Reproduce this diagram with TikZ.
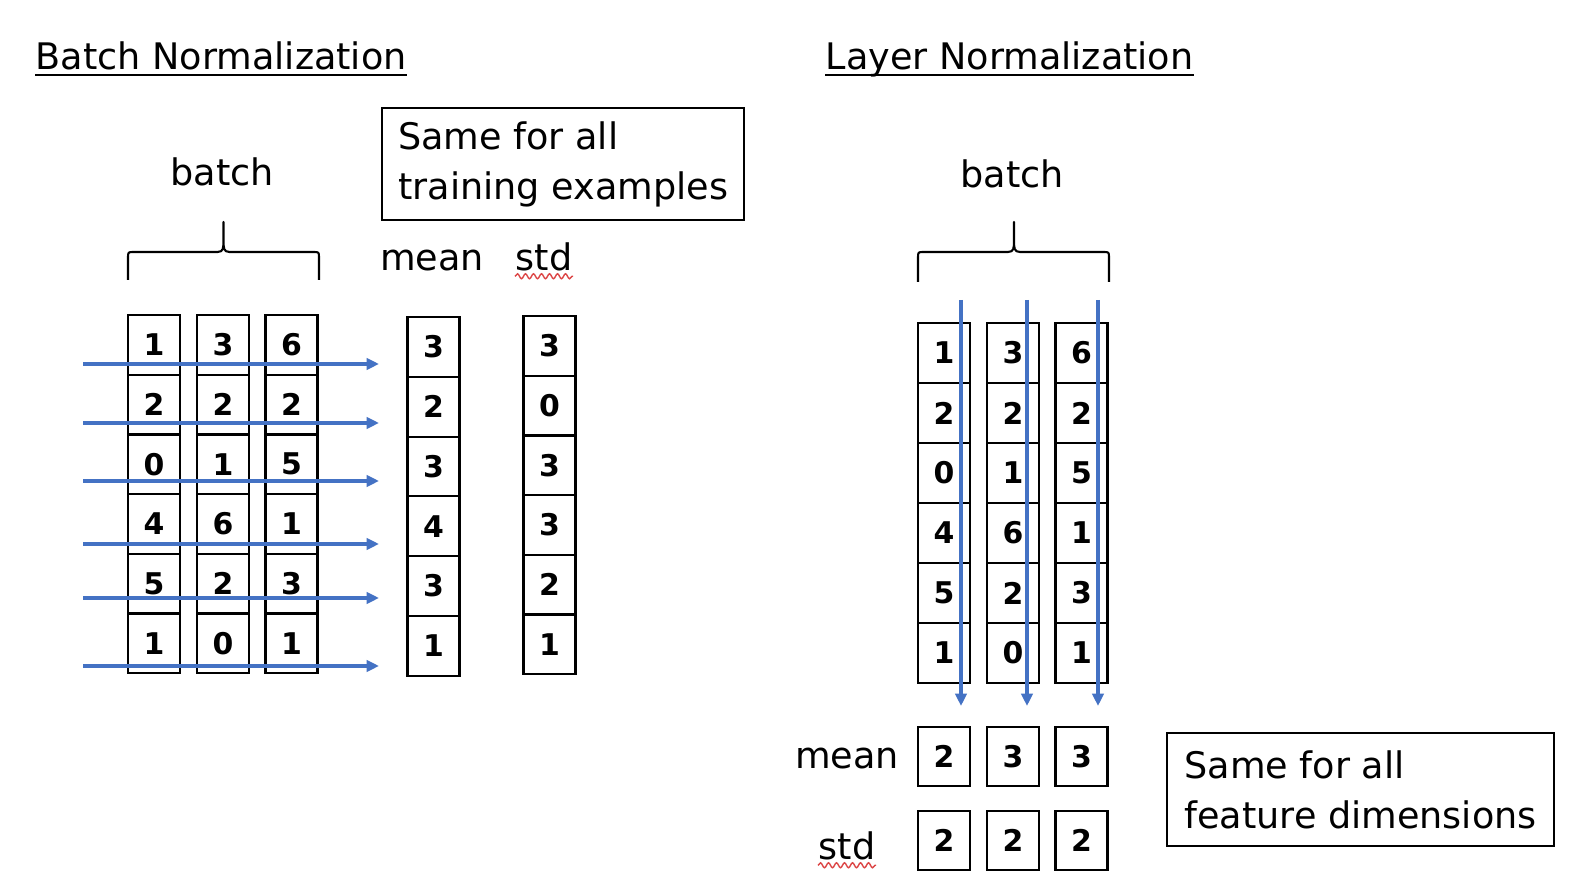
\documentclass[tikz,border=0pt]{standalone}
\usepackage{fontspec}
\setmainfont{DejaVu Sans}
\usetikzlibrary{arrows.meta,decorations.pathmorphing}
\definecolor{flowblue}{RGB}{68,114,196}
\definecolor{spellred}{RGB}{220,70,70}

\begin{document}
\begin{tikzpicture}[x=0.01cm,y=-0.01cm]
    \tikzstyle{every node}=[font=\fontsize{10.4}{14.2}\selectfont,inner sep=0pt];
    \tikzstyle{cell}=[draw,line width=0.6pt,minimum width=0.52cm,minimum height=0.597cm,font=\fontsize{8.5}{10}\selectfont\bfseries];
    \tikzstyle{flow}=[draw=flowblue,line width=0.9pt,-{Triangle[length=3.5pt,width=3.2pt]}];
    \tikzstyle{note}=[draw,line width=0.6pt,align=left,anchor=west];
    \tikzstyle{spell}=[draw=spellred,line width=0.4pt,decorate,decoration={snake,segment length=0.8mm,amplitude=0.25mm}];
    \tikzstyle{bracket}=[line width=0.6pt,line join=round];
    \useasboundingbox (0,0) rectangle (1569,892);

    % braces over the batch columns
    \foreach \l/\m/\r/\b in {128/223.5/319/280, 918/1014/1109/282} {
      \draw[bracket] (\l,\b) -- (\l,258) .. controls (\l,252) .. (\l+6,252) -- (\m-6,252)
        .. controls (\m,252) and (\m,248) .. (\m,240) -- (\m,222) -- (\m,240)
        .. controls (\m,248) and (\m,252) .. (\m+6,252) -- (\r-6,252)
        .. controls (\r,252) .. (\r,258) -- (\r,\b);
    }

    % batch normalization
    \node[anchor=base west] (bntitle) at (35,70) {Batch Normalization};
    \draw[line width=0.6pt] ([yshift=-1.5pt]bntitle.base west) -- ([yshift=-1.5pt]bntitle.base east);
    \node[anchor=base] (bnbatch) at (222,186) {batch};
    \node[note,inner xsep=0.16cm,minimum width=3.62cm,minimum height=1.12cm] (bnnote) at (381,164) {Same for all\\training examples};
    \node[anchor=base] (bnmeanlabel) at (432,271) {mean};
    \node[anchor=base] (bnstdlabel) at (544,271) {std};
    \draw[spell] ([yshift=-1.5pt]bnstdlabel.base west) -- ([yshift=-1.5pt]bnstdlabel.base east);

    \foreach \a/\b/\c [count=\r] in {1/3/6, 2/2/2, 0/1/5, 4/6/1, 5/2/3, 1/0/1} {
      \node[cell] (bn-\r-1) at (154, 285.2+59.7*\r) {\a};
      \node[cell] (bn-\r-2) at (223, 285.2+59.7*\r) {\b};
      \node[cell] (bn-\r-3) at (291.5, 285.2+59.7*\r) {\c};
    }
    \foreach \m/\s [count=\r] in {3/3, 2/0, 3/3, 4/3, 3/2, 1/1} {
      \node[cell] (bnmean-\r) at (433.5, 287.1+59.8*\r) {\m};
      \node[cell] (bnstd-\r) at (549.5, 286.2+59.7*\r) {\s};
    }
    \foreach \y [count=\r] in {364,423,481,544,598,666} {
      \coordinate (bnin-\r) at (83,\y);
      \coordinate (bnout-\r) at (379,\y);
      \draw[flow] (bnin-\r) -- (bnout-\r);
    }

    % layer normalization
    \node[anchor=base west] (lntitle) at (825,70) {Layer Normalization};
    \draw[line width=0.6pt] ([yshift=-1.5pt]lntitle.base west) -- ([yshift=-1.5pt]lntitle.base east);
    \node[anchor=base] (lnbatch) at (1012,188) {batch};

    \foreach \a/\b/\c [count=\r] in {1/3/6, 2/2/2, 0/1/5, 4/6/1, 5/2/3, 1/0/1} {
      \node[cell] (ln-\r-1) at (944, 293+60*\r) {\a};
      \node[cell] (ln-\r-2) at (1013, 293+60*\r) {\b};
      \node[cell] (ln-\r-3) at (1081.5, 293+60*\r) {\c};
    }
    \foreach \m/\s/\x [count=\k] in {2/2/944, 3/2/1013, 3/2/1081.5} {
      \node[cell] (lnmean-\k) at (\x,756.5) {\m};
      \node[cell] (lnstd-\k) at (\x,840.5) {\s};
    }
    \foreach \x [count=\k] in {961,1027,1098} {
      \coordinate (lnin-\k) at (\x,300);
      \coordinate (lnout-\k) at (\x,706);
      \draw[flow] (lnin-\k) -- (lnout-\k);
    }
    \node[anchor=base] (lnmeanlabel) at (847,769) {mean};
    \node[anchor=base] (lnstdlabel) at (847,860) {std};
    \draw[spell] ([yshift=-1.5pt]lnstdlabel.base west) -- ([yshift=-1.5pt]lnstdlabel.base east);
    \node[note,inner xsep=0.15cm,minimum width=3.87cm,minimum height=1.13cm] (lnnote) at (1166,789.5) {Same for all\\feature dimensions};
\end{tikzpicture}
\end{document}
